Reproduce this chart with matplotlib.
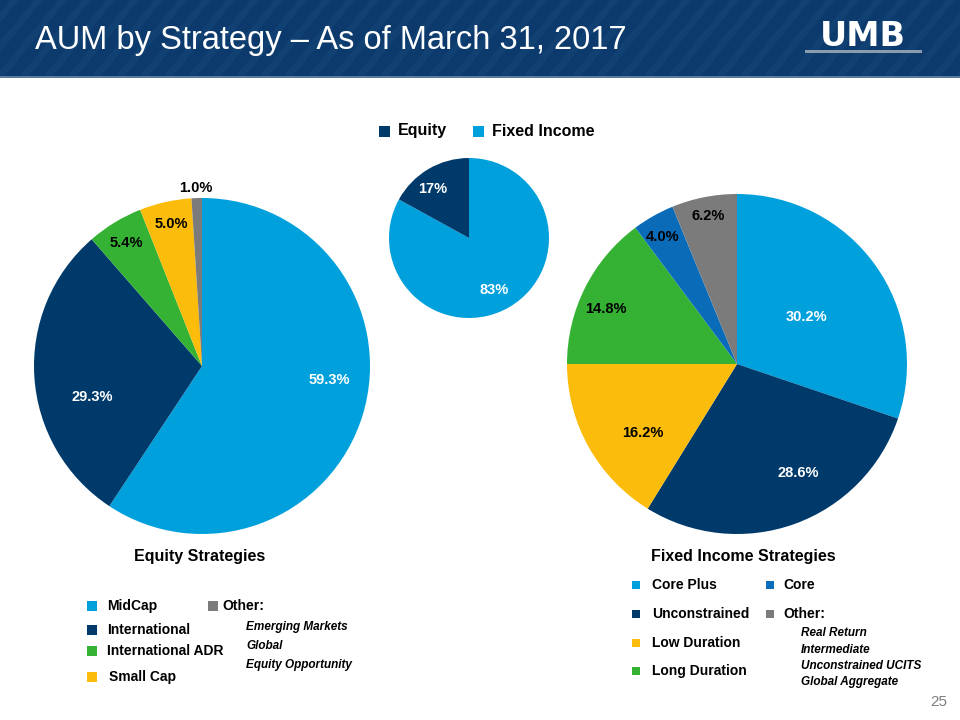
import matplotlib
matplotlib.use("Agg")
import matplotlib.pyplot as plt
from matplotlib.patches import Rectangle, Polygon

# ---------------- data ----------------
title = "AUM by Strategy \u2013 As of March 31, 2017"

equity_labels = ["MidCap", "International", "International ADR", "Small Cap", "Other"]
equity_values = [59.3, 29.3, 5.4, 5.0, 1.0]

total_labels = ["Fixed Income", "Equity"]
total_values = [83, 17]

fi_labels = ["Core Plus", "Unconstrained", "Low Duration", "Long Duration", "Core", "Other"]
fi_values = [30.2, 28.6, 16.2, 14.8, 4.0, 6.2]

equity_other_items = ["Emerging Markets", "Global", "Equity Opportunity"]
fi_other_items = ["Real Return", "Intermediate", "Unconstrained UCITS", "Global Aggregate"]

# ---------------- styles ----------------
LBLUE = "#00a0dc"
NAVY = "#003a6b"
GREEN = "#35b234"
YELLOW = "#fcbc0c"
GRAY = "#7b7b7b"
MBLUE = "#0a6cb8"
HEADER = "#0c3a6c"

equity_colors = [LBLUE, NAVY, GREEN, YELLOW, GRAY]
total_colors = [LBLUE, NAVY]
fi_colors = [LBLUE, NAVY, YELLOW, GREEN, MBLUE, GRAY]

FONT = "Liberation Sans"
plt.rcParams["font.family"] = [FONT, "DejaVu Sans"]

W, H = 960, 720
fig = plt.figure(figsize=(9.6, 7.2), dpi=100)
fig.patch.set_facecolor("white")

# overlay axes in pixel coordinates
ov = fig.add_axes([0, 0, 1, 1])
ov.set_xlim(0, W)
ov.set_ylim(H, 0)
ov.axis("off")

# header band with diagonal stripes
ov.add_patch(Rectangle((0, 0), W, 76, facecolor=HEADER, edgecolor="none", zorder=1))
clip = Rectangle((0, 0), W, 76, transform=ov.transData)
for x0 in range(-100, W + 100, 24):
    stripe = Polygon([(x0, 76), (x0 + 9, 76), (x0 + 9 + 62, 0), (x0 + 62, 0)],
                     closed=True, facecolor="#1d4c80", edgecolor="none", alpha=0.35, zorder=1.5)
    ov.add_patch(stripe)
    stripe.set_clip_path(clip)
ov.add_patch(Rectangle((0, 76), W, 2, facecolor="#5a7aa0", edgecolor="none", zorder=2))
ov.text(35, 41, title, color="white", fontsize=23.5, va="center", ha="left",
        fontfamily=FONT, zorder=3)
ov.text(863, 36, "UMB", color="white", fontsize=24, fontweight="bold", va="center",
        ha="center", fontfamily="DejaVu Sans", zorder=3)
ov.add_patch(Rectangle((805, 50), 117, 2.5, facecolor="#8a9bb0", edgecolor="none", zorder=3))


def pie_axes(cx, cy, r):
    ax = fig.add_axes([(cx - r) / W, 1 - (cy + r) / H, 2 * r / W, 2 * r / H])
    ax.set_xlim(-1, 1)
    ax.set_ylim(-1, 1)
    ax.axis("off")
    return ax


def draw_pie(ax, values, colors, labels_pos, label_colors, fs):
    ax.pie(values, colors=colors, startangle=90, counterclock=False, radius=1,
           wedgeprops=dict(linewidth=0))
    ax.set_xlim(-1, 1)
    ax.set_ylim(-1, 1)
    for v, (x, y), c in zip(values, labels_pos, label_colors):
        txt = f"{v:.1f}%" if isinstance(v, float) else f"{v}%"
        ax.text(x, y, txt, ha="center", va="center", color=c, fontsize=fs,
                fontweight="bold", fontfamily=FONT, clip_on=False)


# Equity pie
ax1 = pie_axes(202, 366, 168)
draw_pie(ax1, equity_values, equity_colors,
         [(0.756, -0.083), (-0.655, -0.185), (-0.452, 0.732), (-0.185, 0.845), (-0.036, 1.06)],
         ["white", "white", "black", "black", "black"], 10.5)

# Total pie
ax2 = pie_axes(469, 238, 80)
draw_pie(ax2, total_values, total_colors,
         [(0.31, -0.65), (-0.46, 0.61)], ["white", "white"], 10.5)

# Fixed income pie
ax3 = pie_axes(737, 364, 170)
draw_pie(ax3, fi_values, fi_colors,
         [(0.406, 0.276), (0.359, -0.641), (-0.553, -0.406), (-0.771, 0.324),
          (-0.435, 0.747), (-0.171, 0.871)],
         ["white", "white", "black", "black", "black", "black"], 10.5)


def square(x, y, color, s=10):
    ov.add_patch(Rectangle((x - s / 2, y - s / 2), s, s, facecolor=color, edgecolor="none", zorder=3))


# ---- legend for total pie ----
square(384, 131, total_colors[1], 11)
ov.text(398, 131, total_labels[1], fontsize=11.5, fontweight="bold", va="center", ha="left")
square(478, 131, total_colors[0], 11)
ov.text(492, 131, total_labels[0], fontsize=11.5, fontweight="bold", va="center", ha="left")

# section titles
ov.text(200, 557, "Equity Strategies", fontsize=11.5, fontweight="bold", ha="center", va="center")
ov.text(743, 557, "Fixed Income Strategies", fontsize=11.5, fontweight="bold", ha="center", va="center")

# Equity legend
eq_leg_y = [606, 630, 651, 677]
eq_leg_x = [107, 107, 107, 109]
for i in range(4):
    square(92, eq_leg_y[i], equity_colors[i])
    ov.text(eq_leg_x[i], eq_leg_y[i], equity_labels[i], fontsize=10, fontweight="bold",
            va="center", ha="left")
square(212.5, 606, equity_colors[4])
ov.text(222, 606, equity_labels[4] + ":", fontsize=10, fontweight="bold", va="center", ha="left")
for item, y in zip(equity_other_items, [627, 646, 665]):
    ov.text(246, y, item, fontsize=8.5, fontweight="bold", fontstyle="italic",
            va="center", ha="left")

# Fixed income legend
fi_left_y = [585, 614, 643, 671]
for i, y in enumerate(fi_left_y):
    square(636, y, fi_colors[i], 8)
    ov.text(652, y, fi_labels[i], fontsize=10, fontweight="bold", va="center", ha="left")
square(770, 585, fi_colors[4], 8)
ov.text(783, 585, fi_labels[4], fontsize=10, fontweight="bold", va="center", ha="left")
square(770, 614, fi_colors[5], 8)
ov.text(783, 614, fi_labels[5] + ":", fontsize=10, fontweight="bold", va="center", ha="left")
for item, y in zip(fi_other_items, [633, 650, 666, 682]):
    ov.text(801, y, item, fontsize=8.5, fontweight="bold", fontstyle="italic",
            va="center", ha="left")

# page number
ov.text(947, 702, "25", fontsize=11, color="#7f7f7f", ha="right", va="center")

fig.savefig("out.png", dpi=100)
